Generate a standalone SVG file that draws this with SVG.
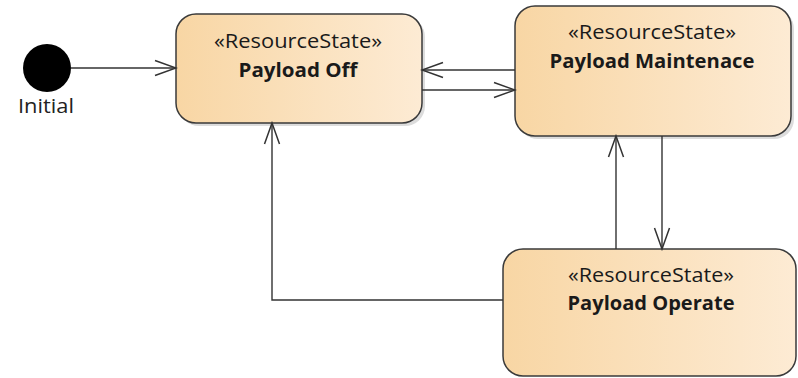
<svg xmlns="http://www.w3.org/2000/svg" width="798" height="378" viewBox="0 0 798 378">
<style>
.box{fill:url(#g);stroke:#3a3a3a;stroke-width:1.5}
.sh{fill:#9a9a9a;opacity:0.35}
.st{font-family:"Open Sans","Noto Sans",sans-serif;font-size:20px;fill:#1a1a1a;text-anchor:middle}
.nm{font-family:"Open Sans","Noto Sans",sans-serif;font-size:19.5px;font-weight:bold;fill:#1a1a1a;text-anchor:middle}
.lbl{font-family:"Open Sans","Noto Sans",sans-serif;font-size:20px;fill:#222;text-anchor:middle}
.c{fill:none;stroke:#333;stroke-width:1.4;marker-end:url(#a)}
</style>
<defs>
<linearGradient id="g" x1="0" y1="0" x2="1" y2="0">
<stop offset="0" stop-color="#f8d6a4"/>
<stop offset="1" stop-color="#fdebd4"/>
</linearGradient>
<marker id="a" markerUnits="userSpaceOnUse" markerWidth="24" markerHeight="18" viewBox="-22 -9 24 18" refX="0" refY="0" orient="auto">
<path d="M-21,-7.5 L0,0 L-21,7.5" fill="none" stroke="#333" stroke-width="1.5"/>
</marker>
</defs>
<g id="initial">
<circle cx="47" cy="68" r="24" fill="#000"/>
<text class="lbl" x="46" y="113" textLength="56" lengthAdjust="spacingAndGlyphs">Initial</text>
</g>
<g id="payload-off">
<rect class="sh" x="179" y="17" width="246" height="109" rx="20"/>
<rect class="box" x="176" y="14" width="246" height="109" rx="20"/>
<text class="st" x="298" y="48" textLength="168" lengthAdjust="spacingAndGlyphs">«ResourceState»</text>
<text class="nm" x="298" y="77" textLength="119" lengthAdjust="spacingAndGlyphs">Payload Off</text>
</g>
<g id="payload-maintenace">
<rect class="sh" x="518" y="9" width="276" height="130" rx="20"/>
<rect class="box" x="515" y="6" width="276" height="130" rx="20"/>
<text class="st" x="652" y="39" textLength="168" lengthAdjust="spacingAndGlyphs">«ResourceState»</text>
<text class="nm" x="652" y="68" textLength="205" lengthAdjust="spacingAndGlyphs">Payload Maintenace</text>
</g>
<g id="payload-operate">
<rect class="box" x="503" y="249" width="293" height="127" rx="20"/>
<text class="st" x="651" y="282" textLength="166" lengthAdjust="spacingAndGlyphs">«ResourceState»</text>
<text class="nm" x="651" y="310" textLength="167" lengthAdjust="spacingAndGlyphs">Payload Operate</text>
</g>
<g id="connectors">
<line class="c" x1="71" y1="68" x2="176" y2="68"/>
<line class="c" x1="515" y1="70" x2="422" y2="70"/>
<line class="c" x1="422" y1="90" x2="515" y2="90"/>
<polyline class="c" points="503,300 272,300 272,123"/>
<line class="c" x1="616" y1="249" x2="616" y2="136"/>
<line class="c" x1="662" y1="136" x2="662" y2="249"/>
</g>
</svg>
